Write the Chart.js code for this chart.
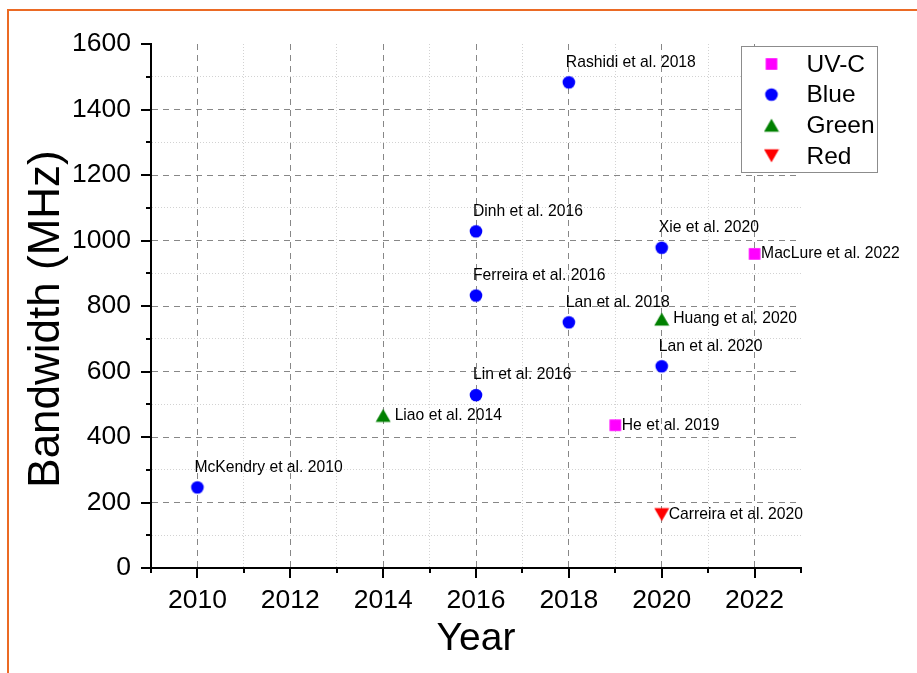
<!DOCTYPE html>
<html>
<head>
<meta charset="utf-8">
<script src="https://cdn.jsdelivr.net/npm/chart.js@4/dist/chart.umd.min.js"></script>
<style>
  html, body { margin: 0; padding: 0; background: #fff; }
  canvas { display: block; }
</style>
</head>
<body>
<canvas id="chart" width="917" height="673"></canvas>
<script>
// Emitter colour groups and their reported modulation bandwidths
const seriesNames = ['UV-C', 'Blue', 'Green', 'Red'];

const uvcYears = [2019, 2022];
const uvcBandwidth = [436, 959];
const uvcRefs = ['He et al. 2019', 'MacLure et al. 2022'];

const blueYears = [2010, 2016, 2016, 2016, 2018, 2018, 2020, 2020];
const blueBandwidth = [246, 528, 832, 1028, 750, 1483, 616, 978];
const blueRefs = ['McKendry et al. 2010', 'Lin et al. 2016', 'Ferreira et al. 2016', 'Dinh et al. 2016',
                  'Lan et al. 2018', 'Rashidi et al. 2018', 'Lan et al. 2020', 'Xie et al. 2020'];

const greenYears = [2014, 2020];
const greenBandwidth = [466, 760];
const greenRefs = ['Liao et al. 2014', 'Huang et al. 2020'];

const redYears = [2020];
const redBandwidth = [163];
const redRefs = ['Carreira et al. 2020'];

const yearTicks = [2010, 2012, 2014, 2016, 2018, 2020, 2022];
const bandwidthTicks = [0, 200, 400, 600, 800, 1000, 1200, 1400, 1600];

const yTitle = 'Bandwidth (MHz)';

const FONT = "'Liberation Sans', Arial, Helvetica, sans-serif";

// Marker glyphs drawn on small canvases so each shape is centred on its box
function makeMarker(kind, color) {
  const c = document.createElement('canvas');
  c.width = 16; c.height = 16;
  const g = c.getContext('2d');
  const m = 8;
  g.fillStyle = color;
  g.beginPath();
  if (kind === 'square') {
    g.rect(m - 5.8, m - 5.8, 11.6, 11.6);
  } else if (kind === 'circle') {
    g.arc(m, m, 6.3, 0, Math.PI * 2);
  } else if (kind === 'up') {
    g.moveTo(m, m - 6.5); g.lineTo(m + 7.5, m + 6.5); g.lineTo(m - 7.5, m + 6.5);
  } else {
    g.moveTo(m - 7.5, m - 6.5); g.lineTo(m + 7.5, m - 6.5); g.lineTo(m, m + 6.5);
  }
  g.closePath();
  g.fill();
  return c;
}

const markers = [
  makeMarker('square', '#ff00ff'),
  makeMarker('circle', '#0000ff'),
  makeMarker('up', '#008000'),
  makeMarker('down', '#ff0000')
];

function toPoints(xs, ys) { return xs.map((x, i) => ({ x: x, y: ys[i] })); }

// How each group's reference text sits next to its marker
const labelPlacement = [
  { side: 'right', dx: 6.5 },
  { side: 'above', dx: -3, dy: -20 },
  { side: 'right', dx: 11.5 },
  { side: 'right', dx: 7 }
];

const datasets = [
  { label: seriesNames[0], data: toPoints(uvcYears, uvcBandwidth), refs: uvcRefs },
  { label: seriesNames[1], data: toPoints(blueYears, blueBandwidth), refs: blueRefs },
  { label: seriesNames[2], data: toPoints(greenYears, greenBandwidth), refs: greenRefs },
  { label: seriesNames[3], data: toPoints(redYears, redBandwidth), refs: redRefs }
].map((d, i) => Object.assign(d, {
  pointStyle: markers[i],
  pointRadius: 7,
  pointHoverRadius: 7,
  showLine: false
}));

const isMajorX = v => yearTicks.includes(v);
const isMajorY = v => bandwidthTicks.includes(v);

function gridColor(isMajor, maxVal) {
  return ctx => {
    if (!ctx.tick) return '#000';
    const v = ctx.tick.value;
    if (v === maxVal) return 'rgba(0,0,0,0)';
    return isMajor(v) ? '#878787' : '#d2d2d2';
  };
}
function gridDash(isMajor) {
  return ctx => {
    if (!ctx.tick) return [];
    return isMajor(ctx.tick.value) ? [6, 5] : [1, 2];
  };
}

// Frame line around the figure
const framePlugin = {
  id: 'frame',
  beforeDraw(chart) {
    const c = chart.ctx;
    c.save();
    c.fillStyle = '#fff';
    c.fillRect(0, 0, chart.width, chart.height);
    c.strokeStyle = '#eb6a24';
    c.lineWidth = 2;
    c.beginPath();
    c.moveTo(8, chart.height);
    c.lineTo(8, 10);
    c.lineTo(chart.width, 10);
    c.stroke();
    c.restore();
  }
};

// Vertical axis title, centred a little below the plot middle
const yTitlePlugin = {
  id: 'yTitle',
  afterDraw(chart) {
    const c = chart.ctx;
    const area = chart.chartArea;
    c.save();
    c.translate(47, (area.top + area.bottom) / 2 + 13);
    c.rotate(-Math.PI / 2);
    c.font = '44px ' + FONT;
    c.fillStyle = '#000';
    c.textAlign = 'center';
    c.textBaseline = 'middle';
    c.fillText(yTitle, 0, 0);
    c.restore();
  }
};

// Outward tick marks: long on labelled values, short in between
const tickMarkPlugin = {
  id: 'tickMarks',
  afterDraw(chart) {
    const c = chart.ctx;
    const xs = chart.scales.x, ys = chart.scales.y;
    const area = chart.chartArea;
    c.save();
    c.strokeStyle = '#000';
    c.lineWidth = 2;
    xs.ticks.forEach(t => {
      const px = Math.round(xs.getPixelForValue(t.value));
      const len = isMajorX(t.value) ? 10 : 5;
      c.beginPath();
      c.moveTo(px, area.bottom);
      c.lineTo(px, area.bottom + len);
      c.stroke();
    });
    ys.ticks.forEach(t => {
      const py = Math.round(ys.getPixelForValue(t.value));
      const len = isMajorY(t.value) ? 10 : 5;
      c.beginPath();
      c.moveTo(area.left, py);
      c.lineTo(area.left - len, py);
      c.stroke();
    });
    c.restore();
  }
};

// Reference names next to each marker
const refLabelPlugin = {
  id: 'refLabels',
  afterDatasetsDraw(chart) {
    const c = chart.ctx;
    c.save();
    c.font = '15.7px ' + FONT;
    c.fillStyle = '#000';
    c.textAlign = 'left';
    c.textBaseline = 'middle';
    chart.data.datasets.forEach((ds, i) => {
      const place = labelPlacement[i];
      chart.getDatasetMeta(i).data.forEach((pt, j) => {
        const tx = pt.x + place.dx;
        const ty = pt.y + (place.dy || 0);
        c.fillText(ds.refs[j], tx, ty);
      });
    });
    c.restore();
  }
};

// Boxed legend in the upper right of the plot
const boxLegendPlugin = {
  id: 'boxLegend',
  afterDraw(chart) {
    const c = chart.ctx;
    const area = chart.chartArea;
    const left = area.right - 59.5, top = area.top + 2.5;
    const w = 136, h = 126;
    c.save();
    c.fillStyle = '#fff';
    c.fillRect(left, top, w, h);
    c.strokeStyle = '#8c8c8c';
    c.lineWidth = 1;
    c.strokeRect(left, top, w, h);
    c.font = '24.5px ' + FONT;
    c.fillStyle = '#000';
    c.textBaseline = 'middle';
    c.textAlign = 'left';
    chart.data.datasets.forEach((ds, i) => {
      const cy = top + 17.5 + i * 30.6;
      const img = markers[i];
      c.drawImage(img, left + 30 - img.width / 2, cy - img.height / 2);
      c.fillText(ds.label, left + 65, cy + 1);
    });
    c.restore();
  }
};

new Chart(document.getElementById('chart'), {
  type: 'scatter',
  data: { datasets: datasets },
  plugins: [framePlugin, tickMarkPlugin, refLabelPlugin, boxLegendPlugin, yTitlePlugin],
  options: {
    responsive: false,
    animation: false,
    devicePixelRatio: 1,
    layout: { padding: { left: 0, top: 44, right: 116, bottom: 0 } },
    plugins: {
      legend: { display: false },
      tooltip: { enabled: false }
    },
    scales: {
      x: {
        type: 'linear',
        min: 2009,
        max: 2023,
        afterFit(scale) { scale.height = 105; },
        ticks: {
          stepSize: 1,
          padding: 17,
          color: '#000',
          font: { family: FONT, size: 26.5 },
          maxRotation: 0,
          autoSkip: false,
          callback: v => (isMajorX(v) ? String(v) : '')
        },
        grid: {
          drawTicks: false,
          lineWidth: 1,
          color: gridColor(isMajorX, 2023)
        },
        border: { display: true, color: '#000', width: 2, dash: gridDash(isMajorX) },
        title: {
          display: true,
          text: 'Year',
          color: '#000',
          font: { family: FONT, size: 39, lineHeight: 1 },
          padding: { top: 0, bottom: 14.5 }
        }
      },
      y: {
        type: 'linear',
        min: 0,
        max: 1600,
        afterFit(scale) { scale.width = 151; },
        ticks: {
          stepSize: 100,
          padding: 20,
          color: '#000',
          font: { family: FONT, size: 26.5 },
          autoSkip: false,
          callback: v => (isMajorY(v) ? String(v) : '')
        },
        grid: {
          drawTicks: false,
          lineWidth: 1,
          color: gridColor(isMajorY, 1600)
        },
        border: { display: true, color: '#000', width: 2, dash: gridDash(isMajorY) },
        title: { display: false }
      }
    }
  }
});
</script>
</body>
</html>
